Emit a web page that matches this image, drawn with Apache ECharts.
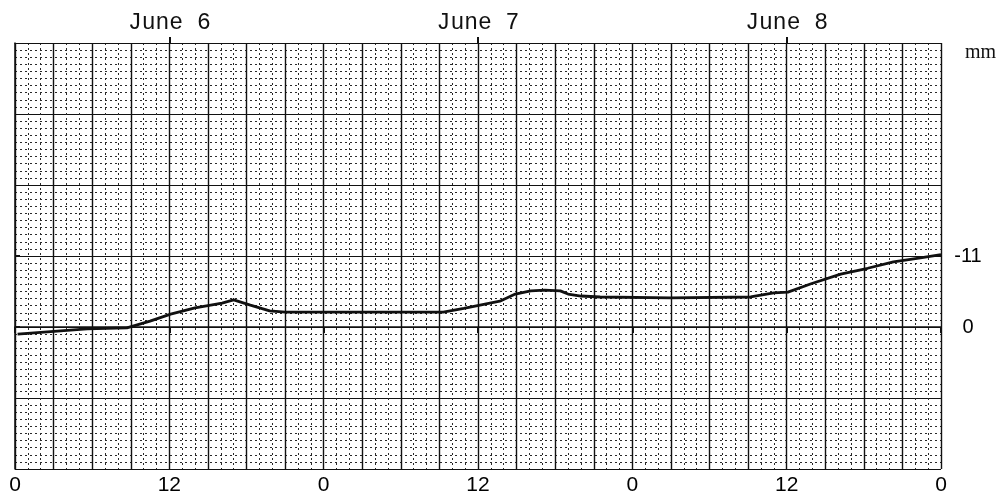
<!DOCTYPE html>
<html>
<head>
<meta charset="utf-8">
<script src="https://cdn.jsdelivr.net/npm/echarts@6/dist/echarts.min.js"></script>
<style>
  html, body { margin: 0; padding: 0; background: #fff; }
  #chart { width: 999px; height: 497px; }
</style>
</head>
<body>
<div id="chart"></div>
<script>
// hours since 0h June 6, and displacement in mm (negative plotted upward)
var hours = [0.2, 5.6, 8.7, 10.5, 12.1, 14.0, 16.1, 17.0, 18.3, 19.8, 21.0, 24.7, 33.3, 34.9, 37.7, 38.9, 40.1, 41.2, 42.4, 43.0, 44.0, 45.5, 51.0, 57.2, 59.0, 60.1, 61.9, 64.2, 66.3, 68.3, 70.4, 72.0];
var mm = [1.1, 0.3, 0.15, -0.9, -2.0, -2.95, -3.7, -4.2, -3.4, -2.5, -2.3, -2.3, -2.3, -2.9, -4.0, -5.1, -5.6, -5.7, -5.6, -5.1, -4.8, -4.65, -4.5, -4.65, -5.3, -5.4, -6.7, -8.2, -9.1, -10.1, -10.7, -11.2];

var hourTicks = [0, 12, 24, 36, 48, 60, 72];
var dayTicks = [12, 36, 60];
var dayLabels = ['June 6', 'June 7', 'June 8'];
var mmTicks = [-11, 0];

var points = [];
for (var i = 0; i < hours.length; i++) {
    points.push([hours[i], mm[i]]);
}

var myChart = echarts.init(document.getElementById('chart'));

var solidGrid = { color: '#111', width: 1.4 };
var dotGrid = { color: '#2a2a2a', width: 1, type: [2, 3] };

var option = {
    animation: false,
    backgroundColor: '#fff',
    title: {
        text: 'mm',
        left: 960,
        top: 38,
        textStyle: { fontFamily: 'Liberation Serif', fontSize: 20, fontWeight: 'normal', color: '#111' }
    },
    grid: { left: 15, right: 58, top: 43, bottom: 28, show: false },
    xAxis: [
        {
            // chart paper grid: solid every 3 h, dotted every hour
            type: 'value',
            position: 'bottom',
            min: 0,
            max: 72,
            interval: 3,
            axisLine: { show: false },
            axisTick: { show: false },
            axisLabel: { show: false },
            splitLine: { show: true, lineStyle: solidGrid },
            minorTick: { show: false, splitNumber: 3 },
            minorSplitLine: { show: true, lineStyle: dotGrid }
        },
        {
            type: 'value',
            position: 'bottom',
            min: 0,
            max: 72,
            axisLine: { show: true, lineStyle: { color: '#111', width: 1.5 } },
            axisTick: { show: true, customValues: hourTicks, length: 6, inside: false, lineStyle: { color: '#111', width: 2 } },
            axisLabel: {
                customValues: hourTicks,
                margin: 6,
                fontFamily: 'Liberation Sans',
                fontSize: 21,
                color: '#000',
                formatter: function (v) { return String(v % 24); }
            },
            splitLine: { show: false }
        },
        {
            type: 'value',
            position: 'top',
            min: 0,
            max: 72,
            axisLine: { show: true, lineStyle: { color: '#111', width: 1 } },
            axisTick: { show: true, customValues: dayTicks, length: 6, inside: false, lineStyle: { color: '#111', width: 2 } },
            axisLabel: {
                customValues: dayTicks,
                margin: 9,
                fontFamily: 'Liberation Mono',
                fontSize: 23,
                color: '#111',
                formatter: function (v) { return dayLabels[dayTicks.indexOf(v)] || ''; }
            },
            splitLine: { show: false }
        }
    ],
    yAxis: [
        {
            type: 'value',
            position: 'right',
            inverse: true,
            min: -44,
            max: 22,
            interval: 11,
            axisLine: { show: false },
            axisTick: { show: false },
            axisLabel: { show: false },
            splitLine: { show: true, lineStyle: { color: '#111', width: 1.1 } },
            minorTick: { show: false, splitNumber: 10 },
            minorSplitLine: { show: true, lineStyle: dotGrid }
        },
        {
            type: 'value',
            position: 'right',
            inverse: true,
            min: -44,
            max: 22,
            axisLine: { show: true, lineStyle: { color: '#111', width: 1.5 } },
            axisTick: { show: true, customValues: mmTicks, length: 5, inside: false, lineStyle: { color: '#111', width: 2 } },
            axisLabel: {
                customValues: mmTicks,
                align: 'center',
                margin: 27,
                fontFamily: 'Liberation Sans',
                fontSize: 20,
                color: '#000'
            },
            splitLine: { show: false }
        }
    ],
    series: [
        {
            type: 'line',
            xAxisIndex: 0,
            yAxisIndex: 0,
            data: points,
            symbol: 'none',
            smooth: false,
            lineStyle: { color: '#111', width: 2.8 }
        }
    ]
};

myChart.setOption(option);
</script>
</body>
</html>
